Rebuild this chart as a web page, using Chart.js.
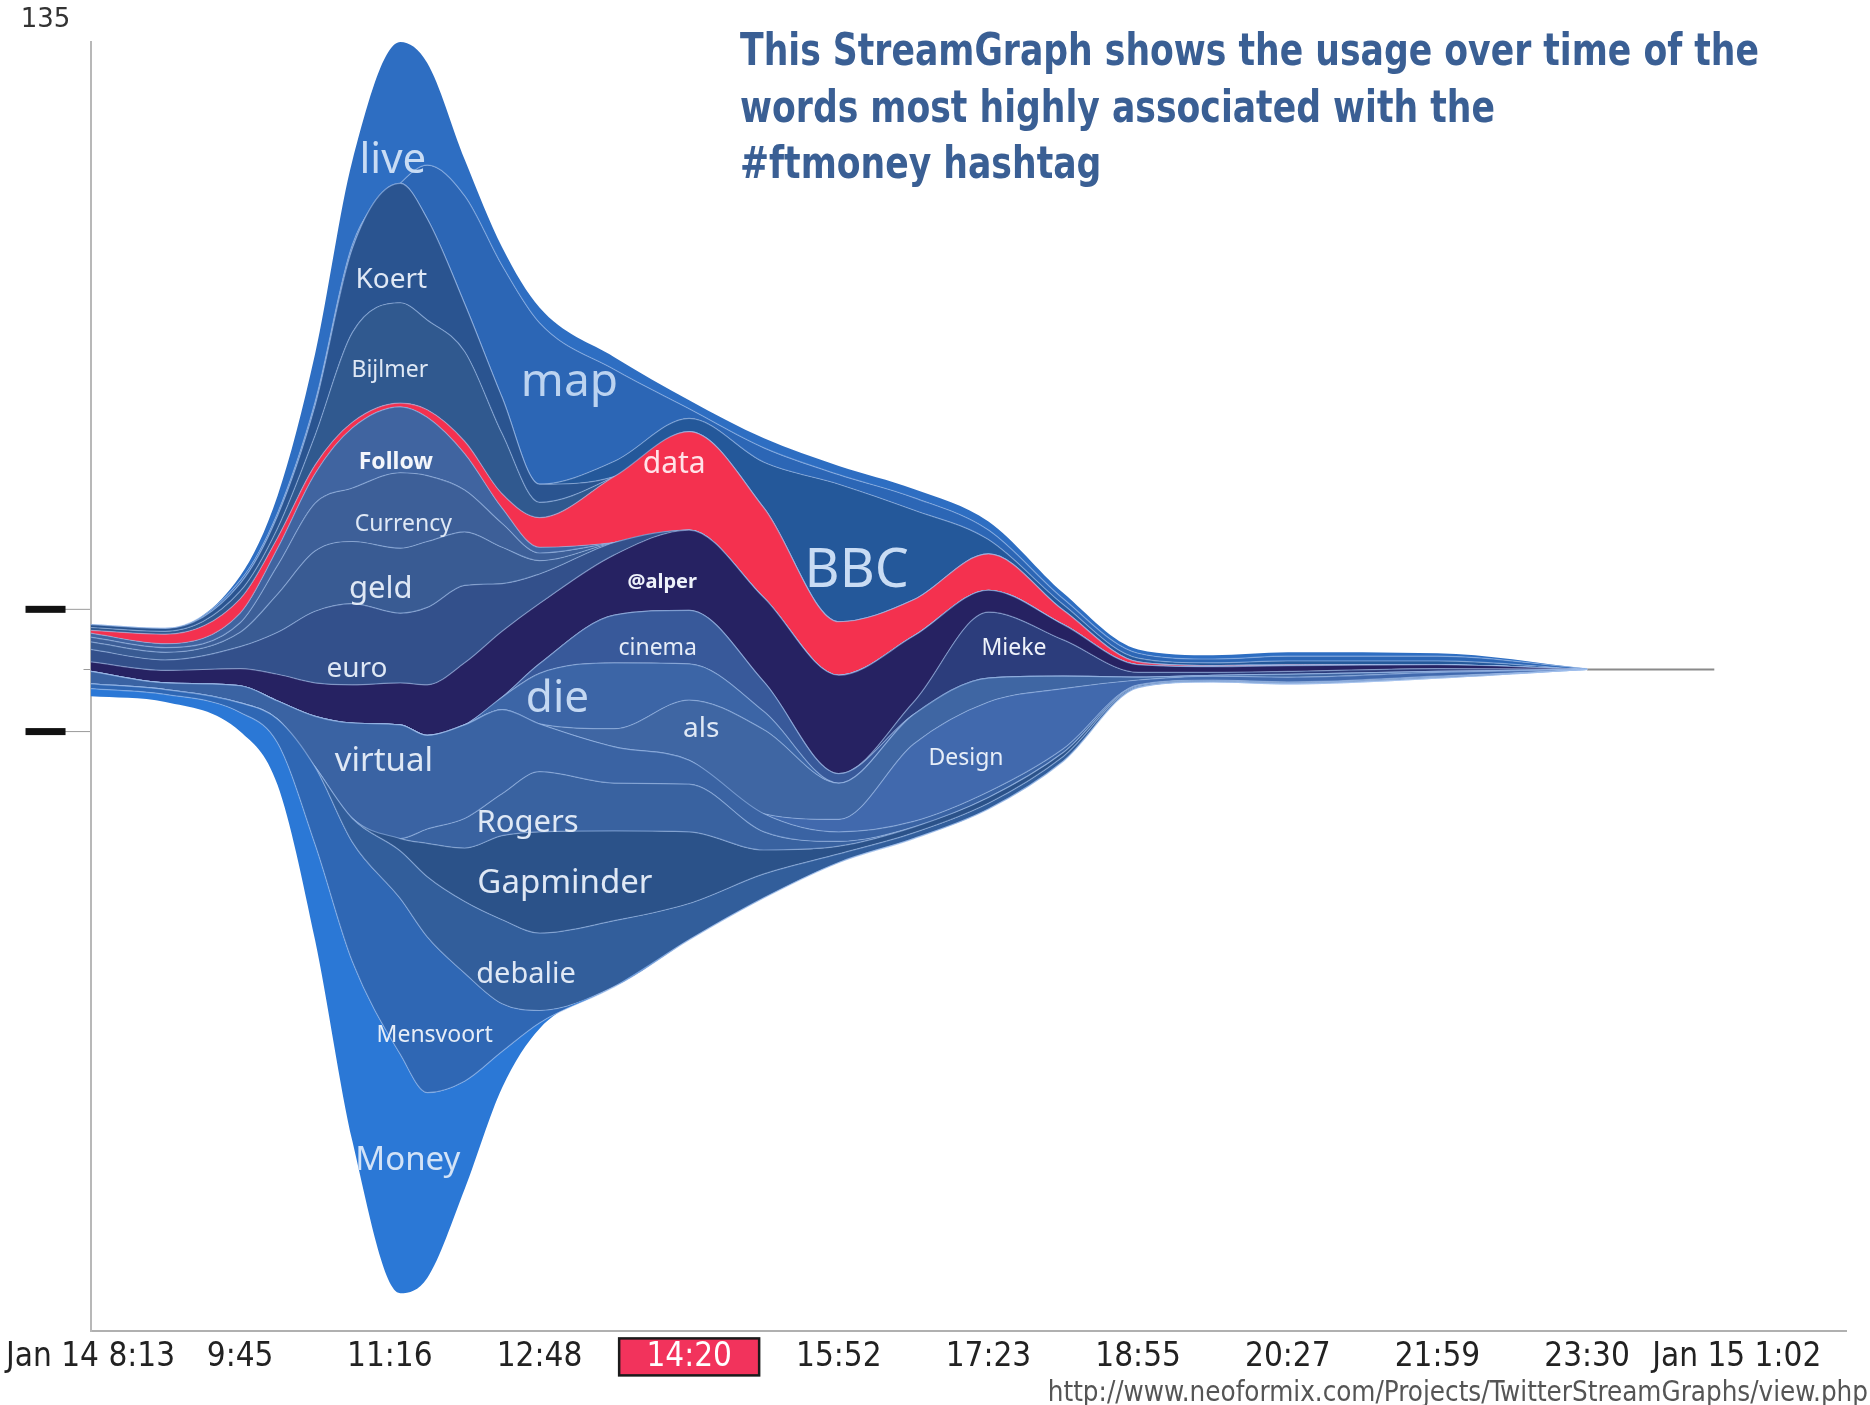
<!DOCTYPE html>
<html>
<head>
<meta charset="utf-8">
<script src="https://cdn.jsdelivr.net/npm/chart.js@4.4.1/dist/chart.umd.min.js"></script>
<style>
  html, body { margin: 0; padding: 0; background: #fff; }
  #wrap { position: relative; width: 1870px; height: 1405px; }
  #title {
    position: absolute; left: 740px; top: 22px; white-space: nowrap;
    font-family: "DejaVu Sans Condensed", "DejaVu Sans", sans-serif;
    font-weight: bold; font-size: 38.5px; line-height: 49.5px; color: #3a5f94;
    transform: scaleY(1.14); transform-origin: 0 0;
  }
  #src {
    position: absolute; right: 2px; top: 1373px; white-space: nowrap;
    font-family: "DejaVu Sans Condensed", "DejaVu Sans", sans-serif;
    font-size: 27.5px; line-height: 36px; color: #555;
  }
</style>
</head>
<body>
<div id="wrap">
  <canvas id="myChart" width="1870" height="1405"></canvas>
  <div id="title">This StreamGraph shows the usage over time of the<br>words most highly associated with the<br>#ftmoney hashtag</div>
  <div id="src">http://www.neoformix.com/Projects/TwitterStreamGraphs/view.php</div>
</div>
<script>
// x axis tick labels (one per tick step)
const timeLabels = ['Jan 14 8:13', '9:45', '11:16', '12:48', '14:20', '15:52',
                    '17:23', '18:55', '20:27', '21:59', '23:30', 'Jan 15 1:02'];
const highlightTick = 4;
const yMax = 135;
const rangeMarks = [75.6, 62.8];
const centerMark = 69.3;
const tailEnd = 10.85;

// sample positions, in tick steps
const times = [0, 0.5, 1, 1.25, 1.5, 1.75, 2.07, 2.25, 2.5, 2.75, 3, 3.5, 4, 4.5, 5, 5.5, 6, 6.5, 7, 7.5, 8, 9, 10];

// bottom edge of the stream (wiggle offset)
const baseline = [66.5, 65.9, 62.8, 57.2, 41.0, 19.9, 4.0, 5.6, 14.9, 25.5, 31.7, 36.1, 41.0, 45.4, 49.1, 51.6, 54.7, 59.7, 67.4, 68.0, 67.8, 68.4, 69.3];

// word counts, bottom layer first
const moneyCounts     = [0.8, 0.8, 2, 4.4, 10, 18.8, 25, 19.4, 11.3, 3.8, 0.6, 0, 0, 0, 0, 0, 0, 0, 0, 0, 0, 0, 0];
const mensvoortCounts = [0.5, 0.5, 1, 2.5, 8.1, 12.5, 16.3, 16.3, 11.3, 5, 1.3, 0, 0, 0, 0, 0, 0, 0, 0, 0, 0, 0, 0];
const debalieCounts   = [0, 0, 0, 0, 0, 2.5, 5, 6.3, 7.5, 8.8, 8.1, 6.9, 3.8, 2.5, 0.9, 0.6, 0.6, 0.5, 0.1, 0, 0, 0, 0];
const gapminderCounts = [0, 0, 0, 0, 0, 0, 1.3, 3.5, 5.6, 8.8, 10.6, 9.4, 7.5, 2.5, 0.8, 0.6, 0.6, 0.4, 0.1, 0.1, 0.1, 0.1, 0];
const rogersCounts    = [0, 0, 0, 0, 0, 0, 0, 1.5, 3.1, 4.4, 6.3, 5, 5, 1.9, 0.5, 0, 0, 0, 0, 0, 0, 0, 0];
const virtualCounts   = [1.3, 0.7, 1.8, 1.9, 5.3, 10, 11.9, 9.8, 9.8, 8.8, 5, 3.8, 2.5, 1.9, 1, 0.6, 0.6, 0.4, 0.1, 0.1, 0.1, 0.1, 0];
const designCounts    = [0, 0, 0, 0, 0, 0, 0, 0, 0, 0, 0, 0, 0, 0, 1.3, 8.1, 9.4, 6.3, 0.5, 0.4, 0.5, 0.4, 0];
const alsCounts       = [0, 0, 0, 0, 0, 0, 0, 0, 0, 0, 0, 1.9, 6.3, 8.8, 3.8, 3.1, 2.5, 1.3, 0.3, 0.1, 0.3, 0.1, 0];
const dieCounts       = [0, 0, 0, 0, 0, 0, 0, 0, 0, 1.3, 5.3, 6.9, 3.8, 1.9, 0, 0, 0, 0, 0, 0, 0, 0, 0];
const cinemaCounts    = [0, 0, 0, 0, 0, 0, 0, 0, 0, 0, 1, 5, 5.6, 3.1, 1, 0, 0, 0, 0, 0, 0, 0, 0];
const miekeCounts     = [0, 0, 0, 0, 0, 0, 0, 0, 0, 0, 0, 0, 0, 0, 0, 1.3, 6.9, 3.8, 0.5, 0.3, 0.3, 0.3, 0];
const alperCounts     = [1, 1.3, 1.8, 2.8, 3.5, 4, 4.4, 5.3, 6.5, 6.9, 6.3, 6.3, 8.4, 8.8, 10.3, 6.9, 2.3, 1.6, 0.8, 0.6, 0.6, 0.4, 0];
const euroCounts      = [1.3, 1.1, 2.3, 4.4, 7.5, 8.5, 7.3, 8.1, 8.1, 5, 3.1, 1.3, 0, 0, 0, 0, 0, 0, 0, 0, 0, 0, 0];
const geldCounts      = [0.8, 0.8, 1.5, 4.0, 6.3, 6.5, 6.8, 6.9, 5.6, 3.8, 1.4, 0, 0, 0, 0, 0, 0, 0, 0, 0, 0, 0, 0];
const currencyCounts  = [0.5, 0.5, 1, 3.0, 5, 5.6, 7.9, 6.9, 4.4, 2.5, 0.8, 0, 0, 0, 0, 0, 0, 0, 0, 0, 0, 0, 0];
const followCounts    = [0.4, 0.4, 1, 1.8, 3.1, 6.3, 6.9, 6.1, 3.8, 1.6, 0.6, 0, 0, 0, 0, 0, 0, 0, 0, 0, 0, 0, 0];
const dataCounts      = [0.3, 1.0, 1.5, 1.1, 0.9, 0.6, 0.4, 0.8, 1.3, 1.5, 3.1, 6.9, 10.3, 9.4, 5.6, 3.8, 3.8, 1.5, 0.3, 0.1, 0.1, 0, 0];
const bijlmerCounts   = [0.3, 0.3, 0.8, 1, 3.1, 9.4, 10.5, 9.4, 9.4, 6.3, 1.6, 0, 0, 0, 0, 0, 0, 0, 0, 0, 0, 0, 0];
const koertCounts     = [0.3, 0.3, 0.8, 1.3, 3.1, 8.8, 12.5, 10.6, 5, 3.8, 1.9, 0, 0, 0, 0, 0, 0, 0, 0, 0, 0, 0, 0];
const bbcCounts       = [0, 0, 0, 0, 0, 0, 0, 0, 0, 0, 0, 1.6, 1.4, 4.8, 14.4, 9.4, 1.5, 0.6, 0.4, 0.3, 0.4, 0.4, 0];
const mapCounts       = [0, 0, 0.3, 0.3, 0.4, 0.4, 0, 5.6, 11.3, 13.8, 16.9, 9.6, 1, 1.5, 1, 1.3, 1, 0.6, 0.5, 0.4, 0.5, 0.5, 0.1];
const liveCounts      = [0, 0, 0.5, 1.8, 5, 8.8, 14.8, 10.7, 3.8, 1.9, 1.6, 1.3, 0.9, 1, 0.9, 0.9, 0.9, 0.6, 0.4, 0.4, 0.4, 0.3, 0];

const layers = [
  ['Money', moneyCounts, '#2b78d6'],
  ['Mensvoort', mensvoortCounts, '#2f67b4'],
  ['debalie', debalieCounts, '#325e9b'],
  ['Gapminder', gapminderCounts, '#2b5289'],
  ['Rogers', rogersCounts, '#3962a0'],
  ['virtual', virtualCounts, '#3a63a3'],
  ['Design', designCounts, '#4169ad'],
  ['als', alsCounts, '#3f66a3'],
  ['die', dieCounts, '#3c65a6'],
  ['cinema', cinemaCounts, '#38599a'],
  ['Mieke', miekeCounts, '#2c3d7c'],
  ['@alper', alperCounts, '#262262'],
  ['euro', euroCounts, '#33508b'],
  ['geld', geldCounts, '#395b93'],
  ['Currency', currencyCounts, '#3d5f98'],
  ['Follow', followCounts, '#4064a0'],
  ['data', dataCounts, '#f4314f'],
  ['Bijlmer', bijlmerCounts, '#30598f'],
  ['Koert', koertCounts, '#2a5490'],
  ['BBC', bbcCounts, '#24589a'],
  ['map', mapCounts, '#2c66b5'],
  ['live', liveCounts, '#2e6ec2']
];

// word labels: position in (tick step, count), font size
const wordLabels = [
  ['live', 2.02, 122.5, 42, '#c9dcf4', ''],
  ['Koert', 2.01, 110.1, 28, '#dfe8f5', ''],
  ['Bijlmer', 2.0, 100.6, 23, '#dfe8f5', ''],
  ['map', 3.2, 99.3, 46, '#bcd3f0', ''],
  ['Follow', 2.04, 91.0, 23, '#f4f6fb', 'bold '],
  ['data', 3.9, 90.8, 30, '#ffe2e8', ''],
  ['Currency', 2.09, 84.5, 23, '#dfe8f5', ''],
  ['BBC', 5.12, 79.6, 54, '#c9dcf4', ''],
  ['geld', 1.94, 77.7, 31, '#dfe8f5', ''],
  ['@alper', 3.82, 78.4, 20, '#eef2fa', 'bold '],
  ['euro', 1.78, 69.4, 28, '#dfe8f5', ''],
  ['cinema', 3.79, 71.5, 23, '#e6edf7', ''],
  ['Mieke', 6.17, 71.5, 23, '#eef2fa', ''],
  ['die', 3.12, 66.2, 44, '#c4d8f2', ''],
  ['als', 4.08, 63.1, 28, '#dfe8f5', ''],
  ['virtual', 1.96, 59.7, 33, '#dfe8f5', ''],
  ['Design', 5.85, 60.0, 23, '#e6edf7', ''],
  ['Rogers', 2.92, 53.2, 31, '#dfe8f5', ''],
  ['Gapminder', 3.17, 46.9, 33, '#dfe8f5', ''],
  ['debalie', 2.91, 37.3, 29, '#dfe8f5', ''],
  ['Mensvoort', 2.30, 31.0, 23, '#e6edf7', ''],
  ['Money', 2.12, 17.9, 33, '#d3e3f7', '']
];

const points = vals => times.map((t, i) => ({x: t, y: vals[i]}));

const datasets = [{
  label: 'baseline',
  data: points(baseline),
  stack: 'stream',
  borderWidth: 0,
  pointRadius: 0,
  fill: false,
  cubicInterpolationMode: 'monotone'
}];
layers.forEach(([name, vals, color]) => {
  datasets.push({
    label: name,
    data: points(vals),
    stack: 'stream',
    backgroundColor: color,
    borderColor: name === 'live' ? 'rgba(0,0,0,0)' : 'rgba(160,192,236,0.55)',
    borderWidth: 1.2,
    pointRadius: 0,
    fill: '-1',
    cubicInterpolationMode: 'monotone'
  });
});
datasets.push({
  label: 'tail',
  data: [{x: times[times.length - 1], y: baseline[baseline.length - 1]}, {x: tailEnd, y: baseline[baseline.length - 1]}],
  stack: 'tail',
  borderColor: '#8a8a8a',
  borderWidth: 2,
  pointRadius: 0,
  fill: false
});

const overlay = {
  id: 'overlay',
  beforeDraw(chart) {
    const {ctx, scales: {x, y}} = chart;
    ctx.save();
    // highlighted time box
    const hx = x.getPixelForValue(highlightTick);
    ctx.fillStyle = '#f2335c';
    ctx.fillRect(hx - 70, y.bottom + 7, 140, 37);
    ctx.strokeStyle = '#1b1b1b';
    ctx.lineWidth = 2.5;
    ctx.strokeRect(hx - 70, y.bottom + 7, 140, 37);
    // range handles on the value axis
    rangeMarks.forEach(v => {
      const py = y.getPixelForValue(v);
      ctx.strokeStyle = '#9a9a9a';
      ctx.lineWidth = 1;
      ctx.beginPath();
      ctx.moveTo(x.left - 26, py);
      ctx.lineTo(x.left, py);
      ctx.stroke();
      ctx.fillStyle = '#111';
      ctx.fillRect(x.left - 65, py - 3.5, 40, 7);
    });
    const cy = y.getPixelForValue(centerMark);
    ctx.strokeStyle = '#9a9a9a';
    ctx.beginPath();
    ctx.moveTo(x.left - 7, cy);
    ctx.lineTo(x.left, cy);
    ctx.stroke();
    // max value label
    ctx.fillStyle = '#333';
    ctx.font = '26px "DejaVu Sans", sans-serif';
    ctx.textAlign = 'center';
    ctx.textBaseline = 'middle';
    ctx.fillText(String(yMax), x.left - 45, y.getPixelForValue(yMax) - 22);
    ctx.restore();
  },
  afterDatasetsDraw(chart) {
    const {ctx, scales: {x, y}} = chart;
    ctx.save();
    ctx.textAlign = 'center';
    ctx.textBaseline = 'middle';
    wordLabels.forEach(([text, t, v, size, color, weight]) => {
      ctx.font = weight + size + 'px "Noto Sans", sans-serif';
      ctx.fillStyle = color;
      ctx.fillText(text, x.getPixelForValue(t), y.getPixelForValue(v));
    });
    ctx.restore();
  }
};

const config = {
  type: 'line',
  data: {datasets: datasets},
  options: {
    responsive: false,
    animation: false,
    events: [],
    layout: {padding: {left: 90, top: 42, right: 24, bottom: 22}},
    plugins: {
      legend: {display: false},
      tooltip: {enabled: false}
    },
    scales: {
      x: {
        type: 'linear',
        min: 0,
        max: 11.73,
        grid: {display: false, drawTicks: false},
        border: {display: true, color: '#b0b0b0', width: 2},
        ticks: {
          stepSize: 1,
          includeBounds: false,
          autoSkip: false,
          maxRotation: 0,
          padding: 6,
          font: {family: '"DejaVu Sans Condensed", "DejaVu Sans", sans-serif', size: 33},
          color: ctx => ctx.index === highlightTick ? '#ffffff' : '#222222',
          callback: v => timeLabels[v] ?? ''
        }
      },
      y: {
        stacked: true,
        min: 0,
        max: yMax,
        grid: {display: false, drawTicks: false},
        border: {display: true, color: '#b8b8b8', width: 2},
        ticks: {display: false}
      }
    }
  },
  plugins: [overlay]
};

const ctx = document.getElementById('myChart');
new Chart(ctx, config);
</script>
</body>
</html>
